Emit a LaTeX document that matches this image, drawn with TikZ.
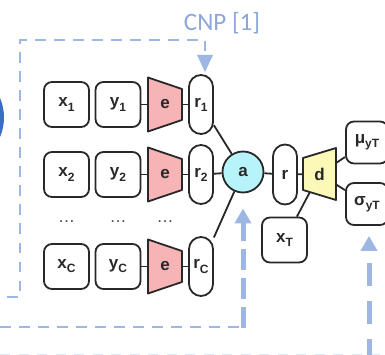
\documentclass[tikz,border=0pt]{standalone}
\usepackage{fontspec}
\setmainfont{Liberation Sans}
\newfontfamily\cnpfont{Carlito}
\usetikzlibrary{arrows.meta}
\definecolor{dashblue}{RGB}{157,182,228}
\definecolor{cnpblue}{RGB}{140,166,220}
\definecolor{darkblue}{RGB}{60,110,200}
\definecolor{encpink}{RGB}{246,180,182}
\definecolor{aggcyan}{RGB}{182,244,249}
\definecolor{decyellow}{RGB}{252,248,184}
\definecolor{edgegray}{RGB}{40,40,40}
\definecolor{dotgray}{RGB}{70,70,70}
\newcommand\lsub[1]{\raisebox{-0.45ex}{\fontsize{12}{12}\selectfont #1}}
\pgfdeclarelayer{bg}
\pgfsetlayers{bg,main}
\begin{document}
\begin{tikzpicture}[x=1pt,y=-1pt,
  lbl/.style={font=\fontsize{17}{17}\selectfont\bfseries, text=edgegray},
  box/.style={lbl, draw=edgegray, fill=white, line width=1.8pt, rounded corners=8pt,
    minimum width=45pt, minimum height=45pt, inner sep=0pt},
  outbox/.style={box, minimum width=42pt, minimum height=42pt},
  pill/.style={lbl, draw=edgegray, fill=white, line width=1.8pt, rounded corners=12pt,
    minimum width=24pt, minimum height=59pt, inner sep=0pt},
  aggnode/.style={lbl, circle, draw=edgegray, fill=aggcyan, line width=1.8pt,
    minimum size=41pt, inner sep=0pt},
  trapcore/.style={lbl, inner sep=0pt, minimum width=34pt, minimum height=31pt},
  trapfill/.style={draw=edgegray, line width=1.8pt, line join=round},
  link/.style={draw=edgegray, line width=1.8pt},
  dotsnode/.style={font=\fontsize{17}{17}\selectfont, text=dotgray, inner sep=0pt},
  thindash/.style={draw=dashblue, line width=2.2pt, dash pattern=on 10.5pt off 8.5pt},
  thickdash/.style={draw=dashblue, line width=5pt},
  tip/.style={-{Triangle[width=16pt,length=15pt]}}
]
\useasboundingbox (0,0) rectangle (385,355);

% partial blue circle at the left edge
\node[circle, fill=darkblue, minimum size=100pt, inner sep=0pt] (prev) at (-46,117.5) {};

% rows of context points
\foreach \i/\yy/\s in {1/104.5/1, 2/174.5/2, c/266.5/C}{
  \node[box] (x\i) at (66.5,\yy) {x\lsub{\s}};
  \node[box] (y\i) at (118,\yy) {y\lsub{\s}};
  \coordinate (ec\i) at (165,\yy);
  \draw[trapfill, fill=encpink] ([shift={(-17,-27)}]ec\i) -- ([shift={(17,-15.5)}]ec\i)
     -- ([shift={(17,15.5)}]ec\i) -- ([shift={(-17,27)}]ec\i) -- cycle;
  \node[trapcore] (e\i) at (ec\i) {e};
  \node[pill] (r\i) at (201,\yy) {r\lsub{\s}};
}
\node[dotsnode] (dx) at (66.5,222) {…};
\node[dotsnode] (dy) at (118,222) {…};
\node[dotsnode] (de) at (165,222) {…};

% aggregator, representation, decoder
\node[aggnode] (a) at (243,172) {a};
\node[pill, minimum height=60pt] (r) at (285,174.5) {r};
\coordinate (dc) at (319.5,174);
\draw[trapfill, fill=decyellow] ([shift={(-16.5,-16)}]dc) -- ([shift={(16.5,-26)}]dc)
   -- ([shift={(16.5,26)}]dc) -- ([shift={(-16.5,16)}]dc) -- cycle;
\node[trapcore, minimum width=33pt, minimum height=32pt] (d) at (dc) {d};
\node[box] (xt) at (284.5,240) {x\lsub{T}};
\node[outbox] (mu) at (367,142.5) {μ\lsub{yT}};
\node[outbox] (sig) at (367,204) {σ\lsub{yT}};

% connectors
\begin{pgfonlayer}{bg}
\foreach \i in {1,2,c}{
  \path[link] (y\i) -- (e\i);
  \path[link] (e\i) -- (r\i);
  \path[link] (r\i) -- (a);
}
\path[link] (a) -- (r);
\path[link] (r) -- (d);
\path[link] (d) -- (mu);
\path[link] (d) -- (sig);
\path[link] (d) -- (xt);
\end{pgfonlayer}

% title
\node[font=\cnpfont\fontsize{25}{25}\selectfont, text=cnpblue, inner sep=0pt] (cnp) at (222,23) {CNP [1]};

% dashed frames and arrows
\draw[thindash] (7,297) -- (20,297) -- (20,40) -- (205,40) -- ([xshift=4pt]r1.north);
\draw[fill=dashblue, draw=none] (197,55) -- (213,55) -- (205,72) -- cycle;
\draw[thindash] (0,327) -- (243,327);
\draw[thickdash, dash pattern=on 21pt off 8pt, tip, shorten >=15pt] (243,328) -- (a.south);
\draw[thickdash, dash pattern=on 23pt off 15pt, tip, shorten >=10pt] (369,362) -- ([xshift=2pt]sig.south);
\draw[draw=dashblue, opacity=0.35, line width=2pt, dash pattern=on 10pt off 8.5pt] (0,355) -- (385,355);
\end{tikzpicture}
\end{document}
